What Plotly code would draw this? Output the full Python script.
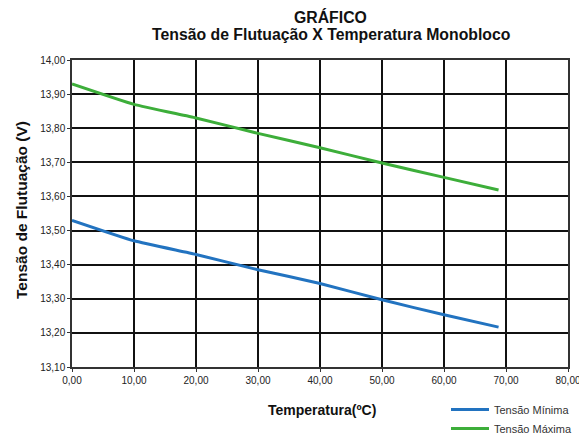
import plotly.graph_objects as go

temperatura = [0, 10, 20, 30, 40, 50, 60, 68.8]
tensao_minima = [13.53, 13.47, 13.43, 13.385, 13.345, 13.297, 13.253, 13.217]
tensao_maxima = [13.93, 13.87, 13.83, 13.785, 13.743, 13.698, 13.656, 13.619]

x_ticks = [0, 10, 20, 30, 40, 50, 60, 70, 80]
y_ticks = [13.1, 13.2, 13.3, 13.4, 13.5, 13.6, 13.7, 13.8, 13.9, 14.0]

FONT = "Liberation Sans, Arial, Helvetica, sans-serif"

# page is rendered with an 8px body margin; figure sized to fill the rest
OFF = 8
W, H = 587 - OFF, 436 - OFF
PL, PR, PT, PB = 72, 568, 60, 367  # plot area in page pixels


def px(x):  # page x -> paper x
    return (x - PL) / (PR - PL)


def py(y):  # page y -> paper y
    return (PB - y) / (PB - PT)


fig = go.Figure()
fig.add_trace(go.Scatter(x=temperatura, y=tensao_minima, mode="lines", name="Tensão Mínima",
                         line=dict(color="#2273C0", width=3, shape="spline", smoothing=0.4)))
fig.add_trace(go.Scatter(x=temperatura, y=tensao_maxima, mode="lines", name="Tensão Máxima",
                         line=dict(color="#3DAE3A", width=3, shape="spline", smoothing=0.4)))

fig.update_layout(
    width=W, height=H,
    margin=dict(l=PL - OFF, r=W - (PR - OFF), t=PT - OFF, b=H - (PB - OFF), autoexpand=False),
    paper_bgcolor="white", plot_bgcolor="white",
    separators=",.",
    font=dict(family=FONT, size=10, color="#222"),
    showlegend=True,
    legend=dict(x=(446 - OFF) / W, y=1 - (395 - OFF) / H, xref="container", yref="container",
                xanchor="left", yanchor="top", itemwidth=38,
                font=dict(size=11, color="#333"), bgcolor="rgba(0,0,0,0)",
                tracegroupgap=0),
    annotations=[
        dict(text="<b>GRÁFICO</b>", x=px(330), y=py(17), xref="paper", yref="paper",
             yanchor="middle", xanchor="center", showarrow=False,
             font=dict(size=15.8, color="#111", family=FONT)),
        dict(text="<b>Tensão de Flutuação X Temperatura Monobloco</b>", x=px(331), y=py(35),
             xref="paper", yref="paper", yanchor="middle", xanchor="center", showarrow=False,
             font=dict(size=15.8, color="#111", family=FONT)),
        dict(text="<b>Temperatura(ºC)</b>", x=px(322), y=py(410), xref="paper", yref="paper",
             yanchor="middle", xanchor="center", showarrow=False,
             font=dict(size=14, color="#111", family=FONT)),
        dict(text="<b>Tensão de Flutuação (V)</b>", x=px(21), y=py(210), xref="paper", yref="paper",
             yanchor="middle", xanchor="center", showarrow=False, textangle=-90,
             font=dict(size=15.5, color="#111", family=FONT)),
    ],
)

fig.update_xaxes(
    range=[0, 80], tickvals=x_ticks, tickformat=".2f", automargin=False,
    showgrid=True, gridcolor="#111", gridwidth=1.8,
    showline=True, linecolor="#333", linewidth=1.5, mirror=True,
    ticks="outside", ticklen=3, tickcolor="#333",
    zeroline=False,
)
fig.update_yaxes(
    range=[13.1, 14.0], tickvals=y_ticks, tickformat=".2f", automargin=False,
    showgrid=True, gridcolor="#111", gridwidth=1.8,
    showline=True, linecolor="#333", linewidth=1.5, mirror=True,
    ticks="outside", ticklen=3, tickcolor="#333",
    zeroline=False,
)

fig.write_html("out.html")
